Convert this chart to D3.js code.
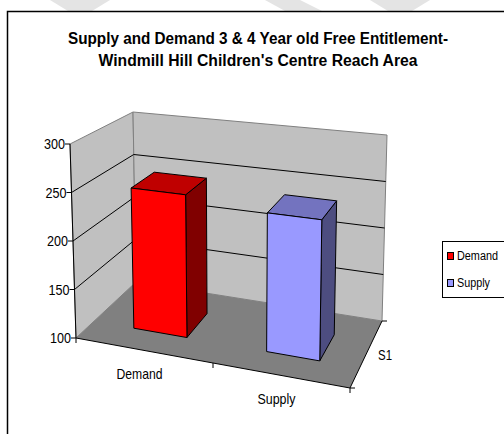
<!DOCTYPE html>
<html>
<head>
<meta charset="utf-8">
<script src="https://cdn.jsdelivr.net/npm/d3@7"></script>
<style>
  body { margin: 0; background: #fff; }
  svg { display: block; font-family: "Liberation Sans", Arial, sans-serif; }
</style>
</head>
<body>
<svg id="chart" width="504" height="434"></svg>
<script>
// data
var categories = ['Demand', 'Supply'];
var series = ['S1'];
var values = [248, 240];
var valueTicks = [100, 150, 200, 250, 300];
var colors = ['#ff0000', '#9999ff'];
var titleLines = ['Supply and Demand 3 & 4 Year old Free Entitlement-',
                  "Windmill Hill Children's Centre Reach Area"];

var svg = d3.select('#chart');

// faint watermark shapes peeking above the chart frame
var marks = [[[50,0],[110,0],[92,11],[68,11]], [[265,0],[300,0],[322,11],[285,11]], [[370,0],[430,0],[412,11],[388,11]]];
svg.selectAll('polygon.wm').data(marks).enter().append('polygon')
    .attr('class', 'wm')
    .attr('points', function(d) { return d.join(' ') })
    .style('fill', '#e4e4e4');

// chart frame
svg.append('path')
    .attr('d', 'M7.5,440 L7.5,11.5 L510,11.5')
    .style('fill', 'none')
    .style('stroke', '#000')
    .style('stroke-width', 1.5);

// title (text in the original is narrow and tall)
var titleWidths = [380, 319];
svg.selectAll('text.title').data(titleLines).enter().append('text')
    .attr('class', 'title')
    .attr('x', function(d, i) { return 258 - titleWidths[i] / 2 })
    .attr('y', function(d, i) { return 44 + i * 22 })
    .attr('textLength', function(d, i) { return titleWidths[i] })
    .attr('lengthAdjust', 'spacingAndGlyphs')
    .style('font-weight', 'bold')
    .style('font-size', '16px')
    .text(function(d) { return d });

// 3d box corners (front/back, left/right, bottom/top)
var C = {
    flb: [76, 338], flt: [70, 144], frb: [350, 388], frt: [354, 176],
    blb: [136, 282], blt: [133, 112], brb: [382, 321], brt: [387, 135]
};
function lerp(a, b, t) { return [a[0] + (b[0] - a[0]) * t, a[1] + (b[1] - a[1]) * t] }
function proj(u, v, w) {
    var f = lerp(lerp(C.flb, C.frb, u), lerp(C.flt, C.frt, u), v),
        b = lerp(lerp(C.blb, C.brb, u), lerp(C.blt, C.brt, u), v);
    return lerp(f, b, w);
}
function poly(pts) { return 'M' + pts.map(function(p) { return p[0] + ',' + p[1] }).join('L') + 'Z' }
function line(pts) { return 'M' + pts.map(function(p) { return p[0] + ',' + p[1] }).join('L') }

var x = d3.scaleBand().domain(categories).range([0, 1]).paddingInner(0.6).paddingOuter(0.3);
var y = d3.scaleLinear().domain([valueTicks[0], valueTicks[valueTicks.length - 1]]).range([0, 1]);
var z = d3.scaleBand().domain(series).range([0, 1]).paddingInner(0.6).paddingOuter(0.3);

// walls and floor
svg.append('path').attr('d', poly([proj(0,0,0), proj(0,1,0), proj(0,1,1), proj(0,0,1)]))
    .style('fill', '#c0c0c0').style('stroke', '#808080');
svg.append('path').attr('d', poly([proj(0,0,1), proj(0,1,1), proj(1,1,1), proj(1,0,1)]))
    .style('fill', '#c0c0c0').style('stroke', '#808080');
svg.append('path').attr('d', poly([proj(0,0,0), proj(0,0,1), proj(1,0,1), proj(1,0,0)]))
    .style('fill', '#808080');

// gridlines
svg.selectAll('path.grid').data(valueTicks.slice(1, -1)).enter().append('path')
    .attr('class', 'grid')
    .attr('d', function(d) { return line([proj(0, y(d), 0), proj(0, y(d), 1), proj(1, y(d), 1)]) })
    .style('fill', 'none').style('stroke', '#000');

// value axis
svg.append('path').attr('d', line([proj(0,0,0), proj(0,1,0)])).style('stroke', '#000');
var vt = svg.selectAll('g.vtick').data(valueTicks).enter().append('g').attr('class', 'vtick');
vt.append('path')
    .attr('d', function(d) { var p = proj(0, y(d), 0); return line([[p[0] - 5, p[1]], p]) })
    .style('stroke', '#000');
vt.append('text')
    .attr('x', function(d) { return proj(0, y(d), 0)[0] - 26 })
    .attr('y', function(d) { return proj(0, y(d), 0)[1] + 5 })
    .attr('textLength', 21)
    .attr('lengthAdjust', 'spacingAndGlyphs')
    .style('font-size', '14px')
    .text(function(d) { return d });

// category axis
svg.append('path').attr('d', line([proj(0,0,0), proj(1,0,0)])).style('stroke', '#000');
svg.selectAll('path.ctick').data([0, 0.5, 1]).enter().append('path')
    .attr('class', 'ctick')
    .attr('d', function(d) { var p = proj(d, 0, 0); return line([p, [p[0], p[1] + 5]]) })
    .style('stroke', '#000');
var catWidths = [46, 38];
svg.selectAll('text.cat').data(categories).enter().append('text')
    .attr('class', 'cat')
    .attr('x', function(d, i) { return proj(x(d) + x.bandwidth() / 2, 0, 0)[0] - 5 - catWidths[i] / 2 })
    .attr('y', function(d) { return proj(x(d) + x.bandwidth() / 2, 0, 0)[1] + 28 })
    .attr('textLength', function(d, i) { return catWidths[i] })
    .attr('lengthAdjust', 'spacingAndGlyphs')
    .style('font-size', '15px')
    .text(function(d) { return d });

// series axis
svg.append('path').attr('d', line([proj(1,0,0), proj(1,0,1)])).style('stroke', '#000');
svg.selectAll('path.stick').data([0, 1]).enter().append('path')
    .attr('class', 'stick')
    .attr('d', function(d) { var p = proj(1, 0, d); return line([p, [p[0] + 5, p[1]]]) })
    .style('stroke', '#000');
svg.selectAll('text.ser').data(series).enter().append('text')
    .attr('class', 'ser')
    .attr('x', function(d) { return proj(1, 0, z(d) + z.bandwidth() / 2)[0] + 12 })
    .attr('y', function(d) { return proj(1, 0, z(d) + z.bandwidth() / 2)[1] + 5 })
    .attr('textLength', 14)
    .attr('lengthAdjust', 'spacingAndGlyphs')
    .style('font-size', '15px')
    .text(function(d) { return d });

// bars
var bars = svg.selectAll('g.bar').data(categories).enter().append('g').attr('class', 'bar');
function faces(d, i) {
    var u0 = x(d), u1 = x(d) + x.bandwidth(), w0 = z(series[0]), w1 = w0 + z.bandwidth(), v = y(values[i]);
    return {
        front: [proj(u0,0,w0), proj(u0,v,w0), proj(u1,v,w0), proj(u1,0,w0)],
        top: [proj(u0,v,w0), proj(u0,v,w1), proj(u1,v,w1), proj(u1,v,w0)],
        side: [proj(u1,0,w0), proj(u1,v,w0), proj(u1,v,w1), proj(u1,0,w1)]
    };
}
function shade(c, k) { c = d3.rgb(c); return d3.rgb(c.r * k, c.g * k, c.b * k) }
bars.append('path').attr('d', function(d, i) { return poly(faces(d, i).side) })
    .style('fill', function(d, i) { return shade(colors[i], 0.5) })
    .style('stroke', '#000');
bars.append('path').attr('d', function(d, i) { return poly(faces(d, i).top) })
    .style('fill', function(d, i) { return shade(colors[i], 0.75) })
    .style('stroke', '#000');
bars.append('path').attr('d', function(d, i) { return poly(faces(d, i).front) })
    .style('fill', function(d, i) { return colors[i] })
    .style('stroke', '#000');

// legend
var legend = svg.append('g').attr('transform', 'translate(442.5,241.5)');
legend.append('rect').attr('width', 70).attr('height', 56)
    .style('fill', '#fff').style('stroke', '#000');
var li = legend.selectAll('g').data(categories).enter().append('g')
    .attr('transform', function(d, i) { return 'translate(5,' + (11 + i * 27) + ')' });
li.append('rect').attr('width', 6).attr('height', 7)
    .style('fill', function(d, i) { return colors[i] }).style('stroke', '#000');
li.append('text').attr('x', 9.5).attr('y', 7.5)
    .attr('textLength', function(d, i) { return [41, 33][i] })
    .attr('lengthAdjust', 'spacingAndGlyphs')
    .style('font-size', '12.5px')
    .text(function(d) { return d });
</script>
</body>
</html>
